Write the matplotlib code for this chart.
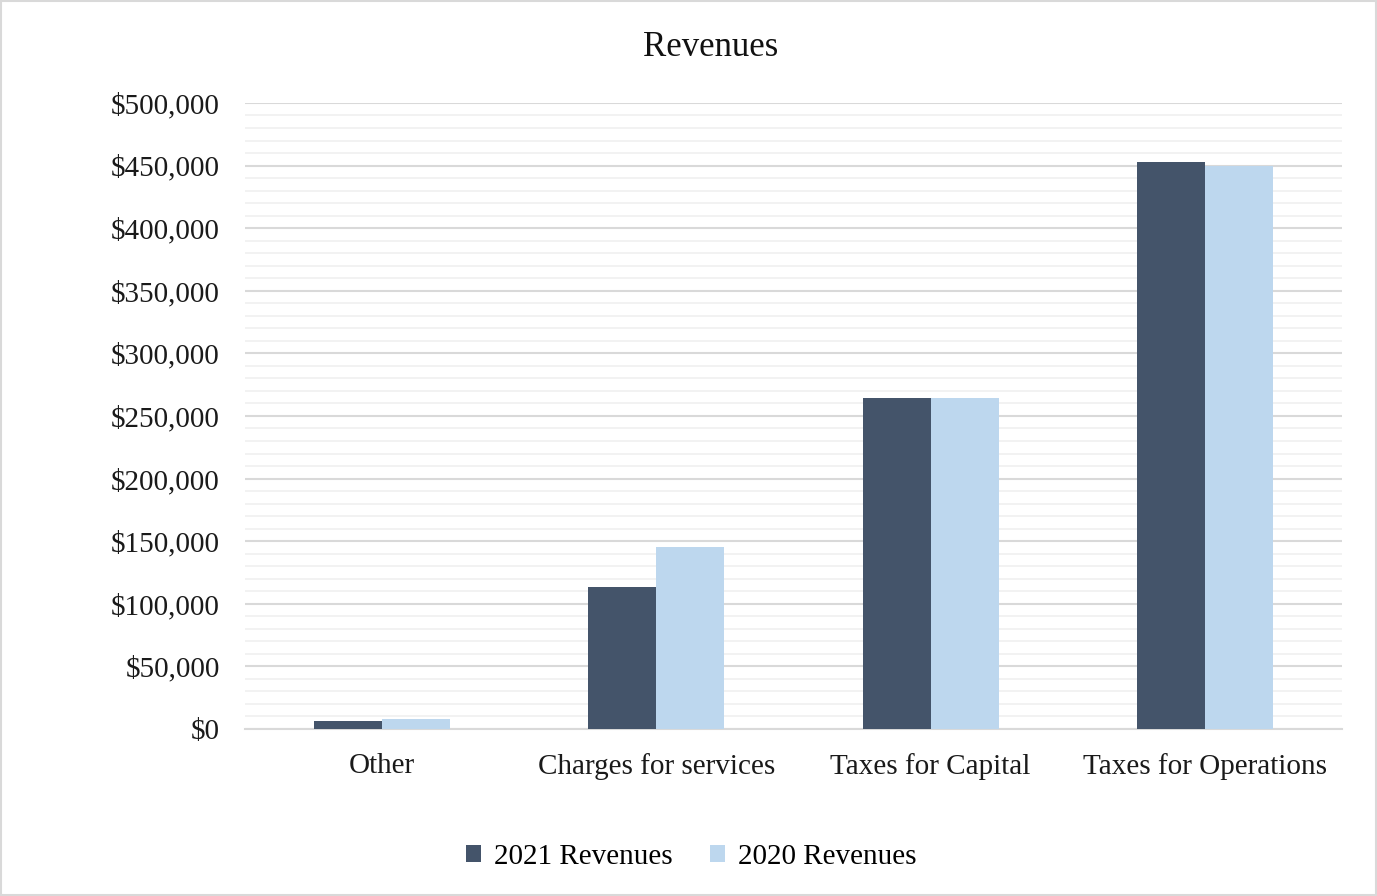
import numpy as np
import matplotlib.pyplot as plt
from matplotlib.ticker import MultipleLocator, FuncFormatter

categories = ["Other", "Charges for services", "Taxes for Capital", "Taxes for Operations"]
rev_2021 = [6000, 113500, 264000, 453000]
rev_2020 = [8000, 145000, 264000, 450000]
series_names = ["2021 Revenues", "2020 Revenues"]

plt.rcParams["font.family"] = ["Liberation Serif", "DejaVu Serif"]

fig = plt.figure(figsize=(13.77, 8.96), dpi=100)
ax = fig.add_axes([0.1779, 0.1864, 0.7967, 0.6987])

x = np.arange(len(categories))
w = 0.248
ax.bar(x - w / 2, rev_2021, w, color="#44546A", label=series_names[0], zorder=3)
ax.bar(x + w / 2, rev_2020, w, color="#BDD7EE", label=series_names[1], zorder=3)

ax.set_xlim(-0.5, len(categories) - 0.5)
ax.set_ylim(0, 500000)
ax.yaxis.set_major_locator(MultipleLocator(50000))
ax.yaxis.set_minor_locator(MultipleLocator(10000))
ax.yaxis.set_major_formatter(FuncFormatter(lambda v, p: f"${v:,.0f}"))
ax.grid(which="major", axis="y", color="#D9D9D9", linewidth=1.5, zorder=0)
ax.grid(which="minor", axis="y", color="#F0F0F0", linewidth=1.2, zorder=0)

for s in ["top", "right", "left"]:
    ax.spines[s].set_visible(False)
ax.spines["bottom"].set_color("#D9D9D9")
ax.spines["bottom"].set_linewidth(1.5)
ax.tick_params(axis="both", which="both", length=0, labelsize=21, colors="#1a1a1a")
ax.tick_params(axis="y", pad=18)
ax.tick_params(axis="x", pad=17)
ax.set_xticks(x)
ax.set_xticklabels(categories)

fig.text(0.516, 0.947, "Revenues", ha="center", va="center", fontsize=25, color="#111111")

fig.legend(loc="center", bbox_to_anchor=(0.502, 0.044), ncol=2, frameon=False,
           fontsize=21, handlelength=0.5, handleheight=0.5, columnspacing=1.3,
           handletextpad=0.45)

fig.patches.append(plt.Rectangle((0.001, 0.001), 0.998, 0.998, transform=fig.transFigure,
                                 fill=False, edgecolor="#D9D9D9", linewidth=1.5))

fig.savefig("out.png", dpi=100)
